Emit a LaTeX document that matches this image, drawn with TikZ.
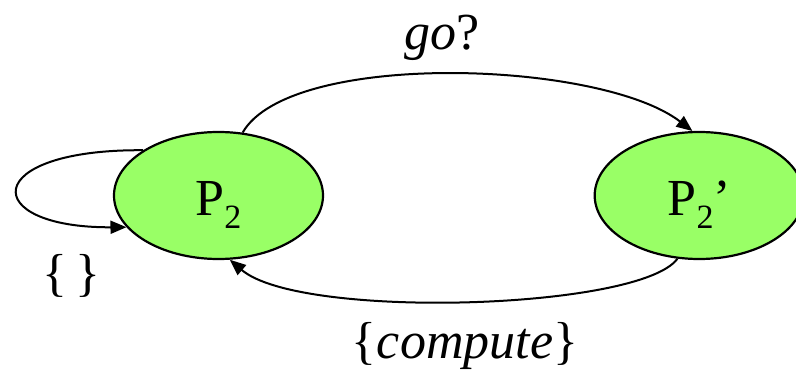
\documentclass[tikz,border=0pt]{standalone}
\usepackage{fontspec}
\setmainfont{Liberation Serif}
\usetikzlibrary{shapes.geometric,arrows.meta,positioning}
\definecolor{stategreen}{RGB}{153,255,102}
\newcommand{\lowtwo}{\raisebox{-6.5pt}{\fontsize{17}{17}\selectfont 2}}

\begin{document}
\begin{tikzpicture}[
  x=0.5pt, y=-0.5pt,
  node distance=134.75pt,
  state/.style={ellipse, draw, line width=1.1pt, fill=stategreen, minimum width=104.5pt, minimum height=63.5pt, inner sep=0pt, text height=19.5pt, text depth=0pt, font=\fontsize{26}{30}\selectfont},
  lbl/.style={font=\fontsize{26}{30}\selectfont},
  arrow/.style={-{Triangle[length=8pt,width=6.5pt]}, line width=1pt}
]
  \useasboundingbox (0,0) rectangle (796,379);
  \node[state] (p2) at (218.5,195.5) {P\lowtwo};
  \node[state, right=of p2] (p2b) {P\lowtwo'};
  % transitions
  \draw[arrow] (p2.69) .. controls (290,50) and (600,60) .. (p2b.96);
  \draw[arrow] (p2b.251) .. controls (640,310) and (300,320) .. (p2.280);
  \draw[arrow] (p2.149) .. controls (-21,149) and (-21,228) .. (p2.199);
  % labels
  \node[lbl] (go) at (442,37.5) {\textit{go}?};
  \node[lbl] (idle) at (71.5,275.5) {\{\,\}};
  \node[lbl] (comp) at (465,346) {\{\textit{compute}\}};
\end{tikzpicture}
\end{document}
